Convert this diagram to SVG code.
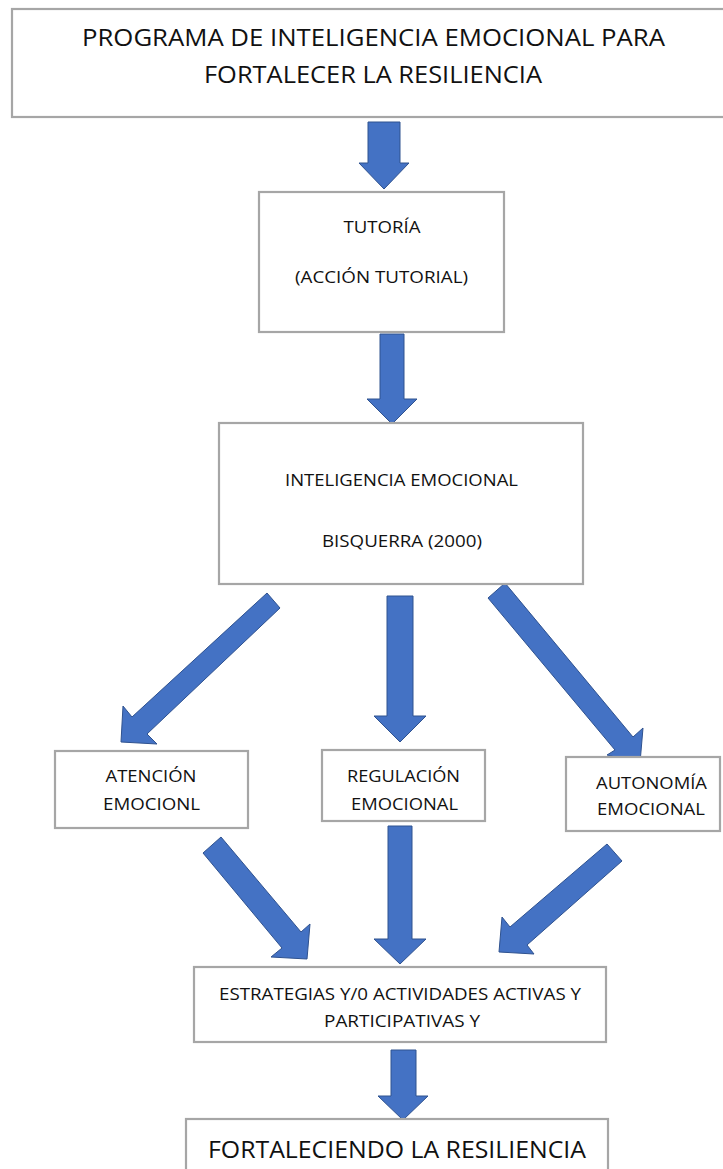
<svg xmlns="http://www.w3.org/2000/svg" width="723" height="1169" viewBox="0 0 723 1169">
<style>
.box{fill:#fff;stroke:#a6a6a6;stroke-width:2.2}
.arr{fill:#4472c4;stroke:#2f528f;stroke-width:1}
.t{font-family:"Open Sans","Liberation Sans",sans-serif;fill:#111;text-anchor:middle}
.big{font-size:24px}
.mid{font-size:17px}
</style>
<rect width="723" height="1169" fill="#fff"/>
<g id="connectors">
<polygon class="arr" points="368,122 400,122 400,163 409,163 384,189 359,163 368,163"/>
<polygon class="arr" points="380,334 404,334 404,399 417,399 392,424 367,399 380,399"/>
<polygon class="arr" points="267,593 132,717 123,706 121,742 157,744 147,734 280,608"/>
<polygon class="arr" points="387,596 413,596 413,716 426,716 400,742 374,716 387,716"/>
<polygon class="arr" points="505,583 633,737 643,728 640,763 607,755 615,750 488,598"/>
<polygon class="arr" points="221,837 301,932 310,924 307,959 271,957 282,948 203,853"/>
<polygon class="arr" points="388,826 412,826 412,939 426,939 400,964 374,939 388,939"/>
<polygon class="arr" points="607,844 510,927 502,917 499,952 534,954 527,945 622,861"/>
<polygon class="arr" points="391,1050 416,1050 416,1096 428,1096 403,1120 378,1096 391,1096"/>
</g>
<g id="programa">
<rect class="box" x="12" y="9" width="720" height="108"/>
<text class="t big" x="373.5" y="46" textLength="583" lengthAdjust="spacingAndGlyphs">PROGRAMA DE INTELIGENCIA EMOCIONAL PARA</text>
<text class="t big" x="373" y="83" textLength="338" lengthAdjust="spacingAndGlyphs">FORTALECER LA RESILIENCIA</text>
</g>
<g id="tutoria">
<rect class="box" x="259" y="192" width="245" height="140"/>
<text class="t mid" x="382" y="233" textLength="77" lengthAdjust="spacingAndGlyphs">TUTORÍA</text>
<text class="t mid" x="381.5" y="283" textLength="173" lengthAdjust="spacingAndGlyphs">(ACCIÓN TUTORIAL)</text>
</g>
<g id="inteligencia">
<rect class="box" x="219" y="423" width="364" height="161"/>
<text class="t mid" x="401.5" y="486" textLength="233" lengthAdjust="spacingAndGlyphs">INTELIGENCIA EMOCIONAL</text>
<text class="t mid" x="402" y="547" textLength="160" lengthAdjust="spacingAndGlyphs">BISQUERRA (2000)</text>
</g>
<g id="atencion">
<rect class="box" x="55" y="751" width="193" height="77"/>
<text class="t mid" x="151" y="782" textLength="91" lengthAdjust="spacingAndGlyphs">ATENCIÓN</text>
<text class="t mid" x="151.5" y="810" textLength="97" lengthAdjust="spacingAndGlyphs">EMOCIONL</text>
</g>
<g id="regulacion">
<rect class="box" x="322" y="750" width="163" height="71"/>
<text class="t mid" x="403.5" y="782" textLength="113" lengthAdjust="spacingAndGlyphs">REGULACIÓN</text>
<text class="t mid" x="404.5" y="810" textLength="107" lengthAdjust="spacingAndGlyphs">EMOCIONAL</text>
</g>
<g id="autonomia">
<rect class="box" x="566" y="757" width="154" height="74"/>
<text class="t mid" x="651.5" y="789" textLength="111" lengthAdjust="spacingAndGlyphs">AUTONOMÍA</text>
<text class="t mid" x="651" y="815" textLength="108" lengthAdjust="spacingAndGlyphs">EMOCIONAL</text>
</g>
<g id="estrategias">
<rect class="box" x="194" y="967" width="412" height="75"/>
<text class="t mid" x="400" y="1000" textLength="362" lengthAdjust="spacingAndGlyphs">ESTRATEGIAS Y/0 ACTIVIDADES ACTIVAS Y</text>
<text class="t mid" x="402" y="1027" textLength="156" lengthAdjust="spacingAndGlyphs">PARTICIPATIVAS Y</text>
</g>
<g id="fortaleciendo">
<rect class="box" x="186" y="1119" width="422" height="70"/>
<text class="t big" x="397" y="1158" textLength="378" lengthAdjust="spacingAndGlyphs">FORTALECIENDO LA RESILIENCIA</text>
</g>
</svg>
